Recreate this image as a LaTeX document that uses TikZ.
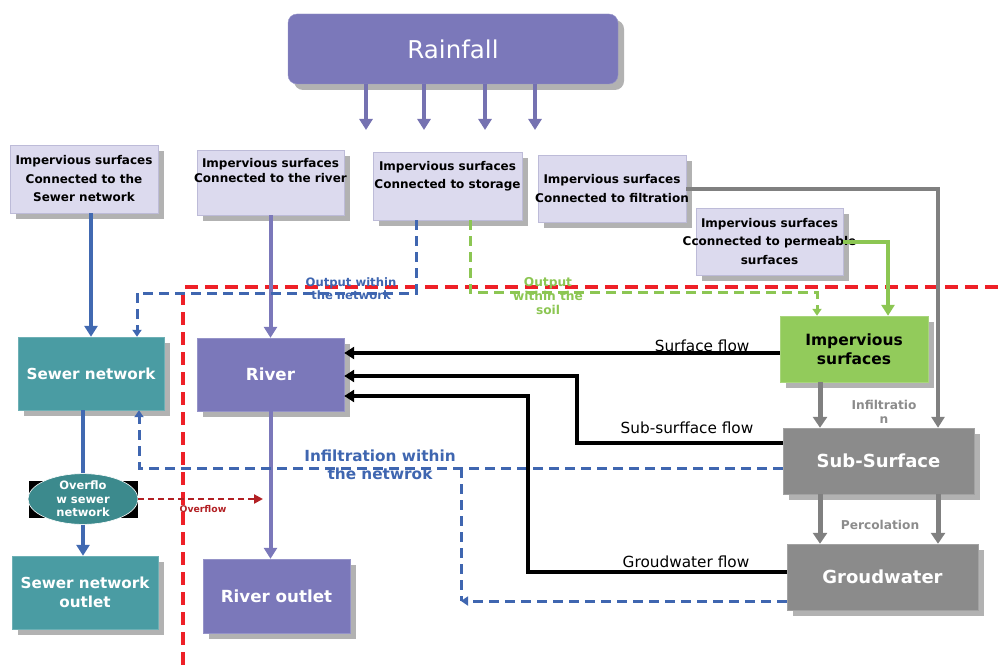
\documentclass[tikz,border=0pt]{standalone}
\usepackage{fontspec}
\setmainfont{DejaVu Sans}
\usetikzlibrary{shapes.geometric,arrows.meta,shadows,calc}
\definecolor{lav}{HTML}{DCDAEE}
\definecolor{lavb}{HTML}{BDBBD8}
\definecolor{purp}{HTML}{7B78BA}
\definecolor{teal}{HTML}{4A9CA3}
\definecolor{tealdk}{HTML}{3C8A8D}
\definecolor{grn}{HTML}{92CB5B}
\definecolor{gry}{HTML}{8B8B8B}
\definecolor{bdash}{HTML}{3F66B0}
\definecolor{gdash}{HTML}{8CC653}
\definecolor{rdash}{HTML}{EE2028}
\definecolor{dred}{HTML}{B22024}
\definecolor{garr}{HTML}{808080}
\definecolor{bsolid}{HTML}{4169B1}
\definecolor{ptxt}{HTML}{8C8C8C}
\newcommand{\zb}[1]{\makebox[0pt]{#1}}
\tikzset{
  shad/.style={drop shadow={shadow xshift=6pt,shadow yshift=-6pt,fill=gray!60,opacity=1}},
  impbox/.style={shad,rectangle,fill=lav,draw=lavb,line width=0.6pt,minimum width=147pt,minimum height=67pt,
     align=center,font=\fontsize{12}{18.5}\selectfont\bfseries,inner sep=0pt},
  bigbox/.style={shad,rectangle,minimum width=147pt,minimum height=73pt,align=center,
     font=\fontsize{15.2}{19}\selectfont\bfseries,text=white,inner sep=1pt},
  purpbox/.style={bigbox,fill=purp,draw=purp!80!white,font=\fontsize{16.7}{20}\selectfont\bfseries},
  tealbox/.style={bigbox,fill=teal,draw=teal!80!white},
  graybox/.style={bigbox,fill=gry,draw=gry!80!white,minimum width=191pt,minimum height=66pt,
     font=\fontsize{18}{21}\selectfont\bfseries},
  thickarr/.style={line width=4pt,-{Triangle[width=13pt,length=11pt]}},
  flow/.style={line width=4pt,black,-{Triangle[width=12pt,length=10pt]}},
  bluedash/.style={line width=3pt,bdash,dash pattern=on 10pt off 6pt},
  greendash/.style={line width=3pt,gdash,dash pattern=on 10pt off 6pt},
  reddash/.style={line width=3.5pt,rdash,dash pattern=on 13pt off 7pt},
  smallhead/.style={-{Triangle[width=9pt,length=7pt]}},
  flowlbl/.style={font=\fontsize{15.3}{18}\selectfont},
}
\begin{document}
\begin{tikzpicture}[x=1pt,y=-1pt]
\useasboundingbox (0,0) rectangle (998,666);
% red boundary
\coordinate (rc) at (183,287);
\coordinate (rr) at (998,287);
\coordinate (rb) at (183,666);
\draw[reddash] (rr) -- (rc) -- (rb);

% nodes
\node[shad,rectangle,rounded corners=9pt,fill=purp,draw=purp!80!white,minimum width=330pt,minimum height=70pt,
  text=white,font=\fontsize{24.5}{28}\selectfont] (rain) at (453,49) {Rainfall};
\node[impbox,minimum width=148pt,minimum height=68pt] (isw) at (84,179) {\zb{Impervious surfaces}\\\zb{Connected to the}\\\zb{Sewer network}};
\node[impbox,minimum height=65pt,font=\fontsize{12}{14.5}\selectfont\bfseries] (iri) at (270.5,182.5) {\zb{Impervious surfaces}\\\zb{Connected to the river}\\[10pt]};
\node[impbox,minimum width=149pt,minimum height=68pt] (ist) at (447.5,186) {\zb{Impervious surfaces}\\\zb{Connected to storage}\\[4pt]};
\node[impbox,minimum width=148pt] (ifi) at (612,188.5) {\zb{Impervious surfaces}\\\zb{Connected to filtration}};
\node[impbox] (ipe) at (769.5,241.5) {\zb{Impervious surfaces}\\\zb{Cconnected to permeable}\\\zb{surfaces}};

\node[tealbox,minimum width=146pt] (sew) at (91,373.5) {Sewer network};
\node[purpbox] (riv) at (270.5,374.5) {River};
\node[shad,rectangle,fill=grn,draw=grn!80!white,minimum width=148pt,minimum height=66pt,align=center,
  font=\fontsize{15.5}{19}\selectfont\bfseries,inner sep=1pt] (gre) at (854,349) {Impervious\\surfaces};
\node[graybox] (sub) at (878.5,461) {Sub-Surface};
\node[graybox] (gw) at (882.5,577) {Groudwater};
\node[tealbox,minimum width=146pt] (sout) at (85,592.5) {Sewer network\\outlet};
\node[purpbox,minimum height=74pt] (rout) at (276.5,596) {River outlet};

\fill[black] (29,481) rectangle (138,518);
\node[ellipse,fill=tealdk,draw=white,line width=0.6pt,minimum width=110pt,minimum height=36pt,inner sep=0pt,
  text=white,align=center,font=\fontsize{11.5}{13.5}\selectfont\bfseries] (ell) at (83,499) {\zb{Overflo}\\\zb{w sewer}\\\zb{network}};

% rainfall arrows
\foreach \xx in {366,424,485,535}{
  \draw[thickarr,purp!95!black] (\xx,84) -- (\xx,130);
}

% solid connectors
\draw[thickarr,bsolid] (isw.south -| sew.north) -- (sew.north);
\draw[thickarr,purp] (iri.south -| riv.north) -- (riv.north);
\draw[line width=4pt,bsolid] (sew.south -| ell.north) -- (ell.north);
\draw[thickarr,bsolid] (ell.south) -- (ell.south |- sout.north);
\draw[thickarr,purp] (riv.south) -- (riv.south |- rout.north);

% overflow
\coordinate (ov) at (263,499);
\draw[line width=2.2pt,dred,dash pattern=on 6pt off 4pt,-{Triangle[width=9pt,length=9pt]}] (ell.east) -- (ov);
\node[font=\fontsize{9.3}{11}\selectfont\bfseries,text=dred] (ovl) at (203,509) {Overflow};

% output within network (blue dashed)
\coordinate (b1) at ([xshift=-31.5pt]ist.south);
\coordinate (b2) at (b1 |- 0,293);
\coordinate (b3) at (137,293);
\draw[bluedash,smallhead] (b1) -- (b2) -- (b3) -- (b3 |- sew.north);
\node[text=bdash,font=\fontsize{11.6}{13}\selectfont\bfseries,align=center] (lbn) at (351,289) {Output within\\the network};

% output within soil (green dashed)
\coordinate (g1) at ([xshift=22.5pt]ist.south);
\coordinate (g2) at (g1 |- 0,292);
\coordinate (g3) at (817,292);
\draw[greendash,smallhead] (g1) -- (g2) -- (g3) -- (g3 |- gre.north);
\node[text=gdash,font=\fontsize{12.2}{14}\selectfont\bfseries,align=center] (lbs) at (548,296) {Output\\within the\\soil};

% permeable -> green
\draw[line width=4pt,gdash,-{Triangle[width=13pt,length=11pt]}] (ipe.east) -| ([xshift=34pt]gre.north);
% filtration -> sub-surface
\draw[line width=4pt,garr,-{Triangle[width=13pt,length=11pt]}] (ifi.east) -| ([xshift=59.5pt]sub.north);
% infiltration
\coordinate (i1) at ([xshift=-34pt]gre.south);
\draw[line width=5pt,garr,-{Triangle[width=14pt,length=11pt]}] (i1) -- (i1 |- sub.north);
\node[text=ptxt,font=\fontsize{12.2}{14}\selectfont\bfseries,align=center] (infl) at (884,412) {Infiltratio\\n};
% percolation
\coordinate (p1) at (820,494);
\coordinate (p2) at (938,494);
\draw[line width=5pt,garr,-{Triangle[width=14pt,length=11pt]}] (p1) -- (p1 |- gw.north);
\draw[line width=5pt,garr,-{Triangle[width=14pt,length=11pt]}] (p2) -- (p2 |- gw.north);
\node[text=ptxt,font=\fontsize{12.2}{14}\selectfont\bfseries] (perl) at (880,525) {Percolation};

% infiltration within the network (blue dashed)
\coordinate (n1) at ([yshift=-7pt]sub.west);
\coordinate (n2) at (139,468);
\draw[bluedash,smallhead] (n1) -- (n2) -- (n2 |- sew.south);
\coordinate (n3) at (461,468);
\coordinate (n4) at (461,601);
\draw[bluedash] (n3) -- (n4);
\draw[bluedash,smallhead] (gw.west |- n4) -- (n4);
\node[text=bdash,font=\fontsize{15.3}{18}\selectfont\bfseries,align=center] (lbi) at (380,465) {Infiltration within\\the netwrok};

% black flows
\draw[flow] ([yshift=-4pt]gre.west) -- ([yshift=21.5pt]riv.east);
\node[flowlbl,anchor=east] (lsf) at (753,346) {Surface flow};
\coordinate (s1) at ([yshift=18pt]sub.west);
\draw[flow] (s1) -- (577,443) -- (577,376) -- ([yshift=-1.5pt]riv.east);
\node[flowlbl] (lss) at (687,428) {Sub-surfface flow};
\coordinate (w1) at ([yshift=5pt]gw.west);
\draw[flow] (w1) -- (528,572) -- (528,396) -- ([yshift=-21.5pt]riv.east);
\node[flowlbl] (lgw) at (686,562) {Groudwater flow};
\end{tikzpicture}
\end{document}
